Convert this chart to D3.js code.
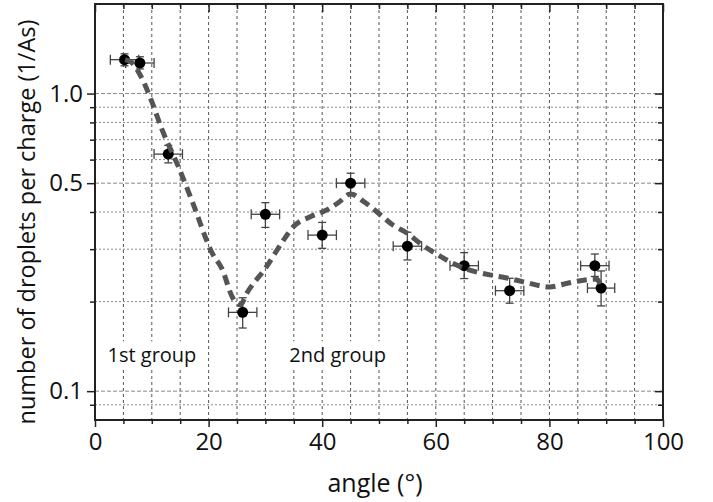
<!DOCTYPE html>
<html>
<head>
<meta charset="utf-8">
<script src="https://cdn.jsdelivr.net/npm/d3@7/dist/d3.min.js"></script>
<style>
  html, body { margin: 0; padding: 0; background: #fff; }
  svg { display: block; font-family: "Open Sans", sans-serif; }
</style>
</head>
<body>
<svg id="chart" width="713" height="502"></svg>
<script>
// ---- data ----
const angles    = [5.2, 7.9, 12.9, 26.0, 30.0, 40.0, 45.0, 55.0, 65.0, 73.0, 88.0, 89.1];
const values    = [1.30, 1.267, 0.626, 0.184, 0.393, 0.3345, 0.50, 0.307, 0.264, 0.2176, 0.264, 0.222];
const valueHigh = [1.36, 1.33, 0.67, 0.206, 0.43, 0.369, 0.54, 0.342, 0.292, 0.2395, 0.289, 0.2535];
const valueLow  = [1.24, 1.21, 0.585, 0.163, 0.355, 0.302, 0.463, 0.276, 0.239, 0.1975, 0.243, 0.1934];
const angleErr  = [2.5, 2.5, 2.5, 2.5, 2.5, 2.5, 2.5, 2.5, 2.5, 2.5, 2.5, 2.4];

const fitAngle = [5.3, 6.5, 8, 10, 11.7, 14.7, 17, 20.8, 22.3, 24.3, 25.6, 26.7, 30.2, 33.2, 35, 38, 41, 43, 45, 47.2, 49.6, 52.5, 55, 57.2, 60, 63, 66, 69.5, 72.5, 75.4, 80, 83, 86, 88.3, 89];
const fitValue = [1.30, 1.27, 1.15, 0.94, 0.765, 0.567, 0.44, 0.287, 0.259, 0.205, 0.195, 0.213, 0.262, 0.322, 0.358, 0.386, 0.408, 0.432, 0.46, 0.435, 0.401, 0.361, 0.339, 0.314, 0.29, 0.269, 0.255, 0.246, 0.24, 0.233, 0.224, 0.23, 0.236, 0.238, 0.2275];

const xTickLabels = [0, 20, 40, 60, 80, 100];
const xMinorTicks = [5, 10, 15, 25, 30, 35, 45, 50, 55, 65, 70, 75, 85, 90, 95];
const yTickLabels = [0.1, 0.5, 1.0];
const yMinorTicks = [0.09, 0.2, 0.3, 0.4, 0.6, 0.7, 0.8, 0.9];

const groupLabels = [
  { text: "1st group", angle: 2.2, value: 0.125 },
  { text: "2nd group", angle: 34.2, value: 0.125 }
];

// ---- layout ----
const svg = d3.select("#chart");
const L = 95, R = 663, T = 4, B = 420;

const x = d3.scaleLinear().domain([0, 100]).range([L, R]);
const y = d3.scaleLog().domain([0.08, 2.0]).range([B, T]);

// grid
const grid = svg.append("g");
const vGrid = xTickLabels.concat(xMinorTicks).filter(d => d > 0 && d < 100);
grid.selectAll("line.vg").data(vGrid).join("line")
  .attr("x1", d => x(d)).attr("x2", d => x(d))
  .attr("y1", T).attr("y2", B)
  .attr("stroke", "#555").attr("stroke-width", 1).attr("stroke-dasharray", "3,3");
grid.selectAll("line.hgM").data(yTickLabels).join("line")
  .attr("x1", L).attr("x2", R)
  .attr("y1", d => y(d)).attr("y2", d => y(d))
  .attr("stroke", "#888").attr("stroke-width", 1).attr("stroke-dasharray", "4,2");
grid.selectAll("line.hgm").data(yMinorTicks).join("line")
  .attr("x1", L).attr("x2", R)
  .attr("y1", d => y(d)).attr("y2", d => y(d))
  .attr("stroke", "#888").attr("stroke-width", 1).attr("stroke-dasharray", "2,2");

// group labels with white background
const gl = svg.append("g");
groupLabels.forEach(g => {
  const t = gl.append("text")
    .attr("x", x(g.angle)).attr("y", y(g.value))
    .attr("font-size", 20).attr("fill", "#111")
    .text(g.text);
  const bb = t.node().getBBox();
  gl.insert("rect", "text")
    .attr("x", bb.x - 3).attr("y", bb.y)
    .attr("width", bb.width + 6).attr("height", bb.height)
    .attr("fill", "#fff");
});

// axes via d3 axis generators
const fmtY = d3.format(".1f");
svg.append("g").attr("transform", `translate(0,${B})`)
  .call(d3.axisBottom(x).tickValues(xTickLabels).tickSize(7).tickPadding(6).tickFormat(d3.format("d")))
  .call(g => g.select(".domain").remove())
  .call(g => g.selectAll("line").attr("stroke", "#222").attr("stroke-width", 1.5))
  .call(g => g.selectAll("text").attr("font-size", 24).attr("fill", "#111").attr("font-family", "Open Sans"));
svg.append("g").attr("transform", `translate(0,${B})`)
  .call(d3.axisBottom(x).tickValues(xMinorTicks).tickSize(4).tickFormat(""))
  .call(g => g.select(".domain").remove())
  .call(g => g.selectAll("line").attr("stroke", "#222").attr("stroke-width", 1.5));
svg.append("g").attr("transform", `translate(0,${T})`)
  .call(d3.axisBottom(x).tickValues(xTickLabels).tickSize(8).tickFormat(""))
  .call(g => g.select(".domain").remove())
  .call(g => g.selectAll("line").attr("stroke", "#222").attr("stroke-width", 1.5));
svg.append("g").attr("transform", `translate(0,${T})`)
  .call(d3.axisBottom(x).tickValues(xMinorTicks).tickSize(5).tickFormat(""))
  .call(g => g.select(".domain").remove())
  .call(g => g.selectAll("line").attr("stroke", "#222").attr("stroke-width", 1.5));

svg.append("g").attr("transform", `translate(${L},0)`)
  .call(d3.axisLeft(y).tickValues(yTickLabels).tickSize(8).tickPadding(4).tickFormat(fmtY))
  .call(g => g.select(".domain").remove())
  .call(g => g.selectAll("line").attr("stroke", "#222").attr("stroke-width", 1.5))
  .call(g => g.selectAll("text").attr("font-size", 24).attr("fill", "#111").attr("font-family", "Open Sans"));
svg.append("g").attr("transform", `translate(${L},0)`)
  .call(d3.axisLeft(y).tickValues(yMinorTicks).tickSize(5).tickFormat(""))
  .call(g => g.select(".domain").remove())
  .call(g => g.selectAll("line").attr("stroke", "#222").attr("stroke-width", 1.5));
svg.append("g").attr("transform", `translate(${R},0)`)
  .call(d3.axisRight(y).tickValues(yTickLabels).tickSize(-8).tickFormat(""))
  .call(g => g.select(".domain").remove())
  .call(g => g.selectAll("line").attr("stroke", "#222").attr("stroke-width", 1.5));
svg.append("g").attr("transform", `translate(${R},0)`)
  .call(d3.axisRight(y).tickValues(yMinorTicks).tickSize(-5).tickFormat(""))
  .call(g => g.select(".domain").remove())
  .call(g => g.selectAll("line").attr("stroke", "#222").attr("stroke-width", 1.5));

// frame
svg.append("rect").attr("x", L).attr("y", T).attr("width", R - L).attr("height", B - T)
  .attr("fill", "none").attr("stroke", "#222").attr("stroke-width", 2);

// error bars
const pts = angles.map((a, i) => ({ a, v: values[i], hi: valueHigh[i], lo: valueLow[i], ea: angleErr[i] }));
const eb = svg.append("g").attr("stroke", "#444").attr("stroke-width", 1.3).attr("fill", "none");
pts.forEach(p => {
  const cx = x(p.a), cy = y(p.v);
  const xl = x(p.a - p.ea), xr = x(p.a + p.ea);
  const yt = y(p.hi), yb = y(p.lo);
  eb.append("line").attr("x1", xl).attr("x2", xr).attr("y1", cy).attr("y2", cy);
  eb.append("line").attr("x1", xl).attr("x2", xl).attr("y1", cy - 5).attr("y2", cy + 5);
  eb.append("line").attr("x1", xr).attr("x2", xr).attr("y1", cy - 5).attr("y2", cy + 5);
  eb.append("line").attr("x1", cx).attr("x2", cx).attr("y1", yt).attr("y2", yb);
  eb.append("line").attr("x1", cx - 4).attr("x2", cx + 4).attr("y1", yt).attr("y2", yt);
  eb.append("line").attr("x1", cx - 4).attr("x2", cx + 4).attr("y1", yb).attr("y2", yb);
});

// points
svg.append("g").selectAll("circle").data(pts).join("circle")
  .attr("cx", d => x(d.a)).attr("cy", d => y(d.v)).attr("r", 5.5).attr("fill", "#000");

// fit line
const fit = fitAngle.map((a, i) => [a, fitValue[i]]);
svg.append("path").datum(fit)
  .attr("d", d3.line().x(d => x(d[0])).y(d => y(d[1])).curve(d3.curveMonotoneX))
  .attr("fill", "none").attr("stroke", "#555").attr("stroke-width", 5)
  .attr("stroke-dasharray", "10,6");

// axis titles
svg.append("text")
  .attr("x", 375).attr("y", 492)
  .attr("text-anchor", "middle").attr("font-size", 25).attr("fill", "#111")
  .text("angle (°)");
svg.append("text")
  .attr("transform", "translate(35,222) rotate(-90)")
  .attr("text-anchor", "middle").attr("font-size", 23.5).attr("fill", "#111")
  .text("number of droplets per charge (1/As)");
</script>
</body>
</html>
